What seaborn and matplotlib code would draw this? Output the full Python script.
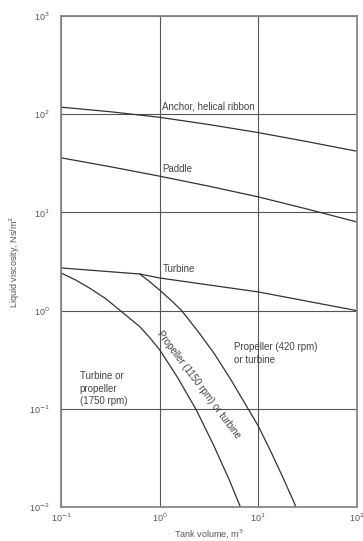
import matplotlib
matplotlib.use("Agg")
import matplotlib.pyplot as plt
import seaborn as sns
import pandas as pd

# Agitator selection curves: tank volume (m^3) vs liquid viscosity (N s/m^2)
anchor_vol = [0.1, 0.316, 1.0, 3.16, 10.0, 31.6, 100.0]
anchor_visc = [118, 106, 93, 78.5, 65, 52.5, 42]

paddle_vol = [0.1, 0.316, 1.0, 3.16, 10.0, 31.6, 100.0]
paddle_visc = [36, 29.2, 23.4, 18.5, 14.4, 10.8, 8.0]

turbine_vol = [0.1, 0.63, 1.0, 10.0, 100.0]
turbine_visc = [2.72, 2.36, 2.15, 1.55, 1.0]

prop1150_vol = [0.63, 0.794, 1.0, 1.29, 1.66, 2.40, 3.55, 5.25, 7.9, 10.0,
                13.5, 18.3, 24.2]
prop1150_visc = [2.36, 1.97, 1.62, 1.29, 1.01, 0.631, 0.37, 0.20, 0.10,
                 0.067, 0.0363, 0.0188, 0.010]

prop1750_vol = [0.1, 0.141, 0.196, 0.282, 0.395, 0.63, 0.794, 1.0, 1.51,
                2.35, 3.47, 5.1, 6.6]
prop1750_visc = [2.42, 2.05, 1.69, 1.33, 1.01, 0.686, 0.531, 0.40, 0.211,
                 0.098, 0.0442, 0.0188, 0.010]

curves = {
    "anchor": (anchor_vol, anchor_visc),
    "paddle": (paddle_vol, paddle_visc),
    "turbine": (turbine_vol, turbine_visc),
    "prop1150": (prop1150_vol, prop1150_visc),
    "prop1750": (prop1750_vol, prop1750_visc),
}
df = pd.concat(
    [pd.DataFrame({"volume": v, "viscosity": mu, "curve": name})
     for name, (v, mu) in curves.items()],
    ignore_index=True,
)

sns.set_style("white")
plt.rcParams["font.family"] = ["Liberation Sans", "DejaVu Sans"]

fig = plt.figure(figsize=(3.63, 5.41), dpi=100)
ax = fig.add_axes([0.168, 0.0628, 0.815, 0.9076])

line_color = "#333333"
sns.lineplot(data=df, x="volume", y="viscosity", units="curve",
             estimator=None, sort=False, color=line_color, lw=0.9, ax=ax)

ax.set_xscale("log")
ax.set_yscale("log")
ax.set_xlim(0.1, 100)
ax.set_ylim(0.01, 1000)
ax.minorticks_off()
ax.set_xticks([0.1, 1, 10, 100])
ax.set_xticklabels([r"10$^{-1}$", r"10$^{0}$", r"10$^{1}$", r"10$^{2}$"])
ax.set_yticks([0.01, 0.1, 1, 10, 100, 1000])
ax.set_yticklabels([r"10$^{-2}$", r"10$^{-1}$", r"10$^{0}$", r"10$^{1}$",
                    r"10$^{2}$", r"10$^{3}$"])
ax.tick_params(axis="both", length=0, labelsize=6.5, labelcolor="#555555")
ax.tick_params(axis="y", pad=8)
ax.tick_params(axis="x", pad=3.5)

ax.grid(True, which="major", color="#555555", lw=0.8)
ax.set_axisbelow(True)
for sp in ax.spines.values():
    sp.set_color("#888888")
    sp.set_linewidth(1.3)

ax.set_xlabel("Tank volume, m$^3$", fontsize=6.5, color="#555555", labelpad=2)
ax.set_ylabel("Liquid viscosity, Ns/m$^2$", fontsize=6.5, color="#555555",
              labelpad=5)

txt = dict(fontsize=7, color="#444444")
ax.text(1.07, 121, "Anchor, helical ribbon", ha="left", va="center", **txt)
ax.text(1.07, 27.7, "Paddle", ha="left", va="center", **txt)
ax.text(1.07, 2.65, "Turbine", ha="left", va="center", **txt)
ax.text(5.7, 0.366, "Propeller (420 rpm)\nor turbine", ha="left",
        va="center", linespacing=1.3, **txt)
ax.text(0.155, 0.16, "Turbine or\npropeller\n(1750 rpm)", ha="left",
        va="center", linespacing=1.3, **txt)
ax.text(2.5, 0.177, "Propeller (1150 rpm) or turbine", ha="center",
        va="center", rotation=-53, rotation_mode="anchor", **txt)

fig.savefig("out.png", dpi=100)
